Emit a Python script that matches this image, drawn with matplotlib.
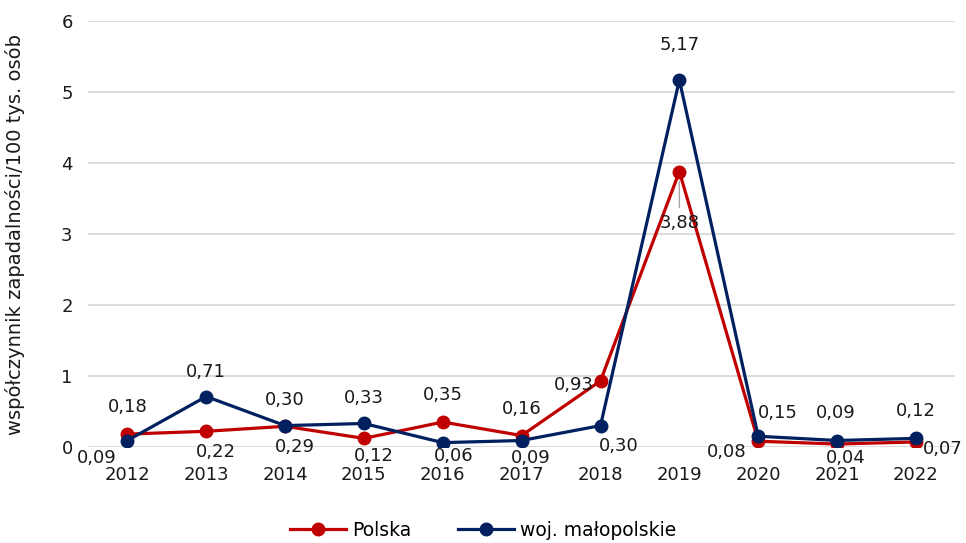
import matplotlib.pyplot as plt
import numpy as np

years = ['2012', '2013', '2014', '2015', '2016', '2017', '2018', '2019', '2020', '2021', '2022']
polska = [0.18, 0.22, 0.29, 0.12, 0.35, 0.16, 0.93, 3.88, 0.08, 0.04, 0.07]
malopolskie = [0.09, 0.71, 0.30, 0.33, 0.06, 0.09, 0.30, 5.17, 0.15, 0.09, 0.12]

# label offsets in pixels (dx, dy), dy positive = up
off_pl = [(0, 27), (10, -21), (10, -21), (10, -18), (0, 27), (0, 27), (-27, -4), (0, -51), (-32, -11), (9, -14), (27, -7)]
off_ma = [(-31, -17), (0, 25), (0, 26), (0, 25), (11, -13), (9, -17), (18, -20), (0, 35), (20, 23), (-1, 28), (0, 27)]

red = '#C00000'
navy = '#002060'

plt.rcParams['font.family'] = ['DejaVu Sans']

fig = plt.figure(figsize=(9.66, 5.43), dpi=100)
ax = fig.add_axes([0.091, 0.177, 0.898, 0.784])

x = np.arange(len(years))
ax.plot(x, polska, color=red, lw=2.3, marker='o', ms=9, label='Polska', zorder=3)
ax.plot(x, malopolskie, color=navy, lw=2.3, marker='o', ms=9, label='woj. małopolskie', zorder=4)

def fmt(v):
  return ('%.2f' % v).replace('.', ',')

px = 72.0 / fig.dpi
for i in range(len(years)):
  dx, dy = off_pl[i]
  ax.annotate(fmt(polska[i]), (x[i], polska[i]), xytext=(dx * px, dy * px), textcoords='offset points',
              ha='center', va='center', fontsize=13, color='#1a1a1a')
  dx, dy = off_ma[i]
  ax.annotate(fmt(malopolskie[i]), (x[i], malopolskie[i]), xytext=(dx * px, dy * px), textcoords='offset points',
              ha='center', va='center', fontsize=13, color='#1a1a1a')

# leader line for the 2019 Polska label
ax.annotate('', (7, polska[7]), xytext=(0, -36 * px), textcoords='offset points',
            arrowprops=dict(arrowstyle='-', color='#a6a6a6', lw=1, shrinkA=0, shrinkB=7))

ax.set_xlim(-0.5, len(years) - 0.5)
ax.set_ylim(0, 6)
ax.set_yticks(range(0, 7))
ax.set_xticks(x)
ax.set_xticklabels(years)
ax.tick_params(axis='both', length=0, labelsize=13, colors='#1a1a1a')
ax.tick_params(axis='x', pad=14)
ax.tick_params(axis='y', pad=11)
ax.grid(axis='y', color='#d9d9d9', lw=1.3)
ax.set_axisbelow(True)
for s in ax.spines.values():
  s.set_visible(False)
ax.set_ylabel('współczynnik zapadalności/100 tys. osób', fontsize=14, color='#1a1a1a', labelpad=26)

fig.legend(loc='lower center', ncol=2, frameon=False, fontsize=13.5, bbox_to_anchor=(0.5, -0.025),
           handlelength=3, columnspacing=2.5, handletextpad=0.3)

plt.savefig('out.png', dpi=100)
